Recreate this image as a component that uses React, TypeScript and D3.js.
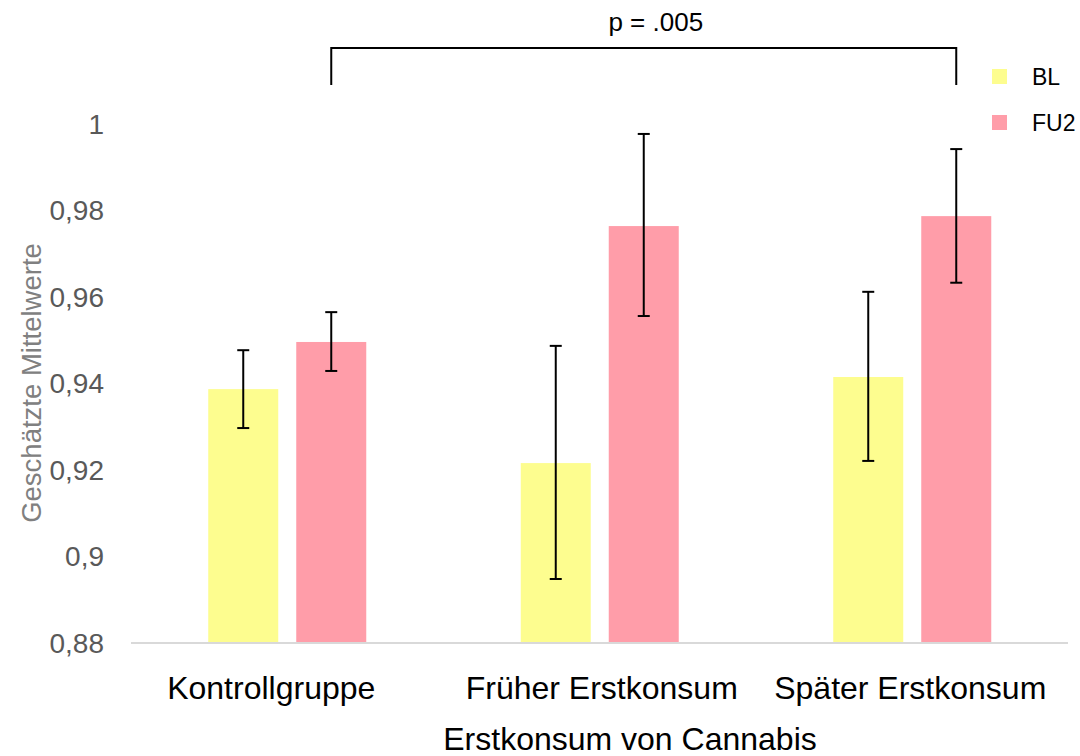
import React from "react";
import * as d3 from "d3";

const categories = ["Kontrollgruppe", "Früher Erstkonsum", "Später Erstkonsum"];
const series = ["BL", "FU2"];
const blValues = [0.9387, 0.9216, 0.9415];
const blLow = [0.9297, 0.8948, 0.9221];
const blHigh = [0.9477, 0.9487, 0.9612];
const fu2Values = [0.9496, 0.9764, 0.9787];
const fu2Low = [0.9429, 0.9556, 0.9633];
const fu2High = [0.9565, 0.9977, 0.9942];
const yTicks = [0.88, 0.9, 0.92, 0.94, 0.96, 0.98, 1.0];
const colors = ["#fdfd8f", "#ff9da9"];
const pLabel = "p = .005";

const W = 1080;
const H = 756;
const FONT = "'Liberation Sans', Arial, Helvetica, sans-serif";

export default function App() {
  const x = d3.scaleBand<string>().domain(categories).range([131, 1068.5]).paddingInner(0).paddingOuter(0);
  const y = d3.scaleLinear().domain([0.88, 1.0]).range([643, 124]);
  const barW = 70;
  const gap = 18;
  const innerW = barW * 2 + gap;
  const subX = (i: number) => i * (barW + gap);
  const groupStart = (c: string) => (x(c) as number) + (x.bandwidth() - innerW) / 2;

  const data = [
    { vals: blValues, lo: blLow, hi: blHigh },
    { vals: fu2Values, lo: fu2Low, hi: fu2High },
  ];

  const fmt = (v: number) => d3.format(".2~f")(v).replace(".", ",");

  const bracketL = groupStart(categories[0]) + subX(1) + barW / 2;
  const bracketR = groupStart(categories[2]) + subX(1) + barW / 2;
  const labelOffsets = [-16, 2, -2];

  return (
    <svg width={W} height={H} style={{ position: "absolute", left: 0, top: 0 }} fontFamily={FONT}>
      <rect x={0} y={0} width={W} height={H} fill="#ffffff" />
      {yTicks.map((t) => (
        <text key={t} x={104} y={y(t)} textAnchor="end" dominantBaseline="central" fontSize={28} fill="#595959">
          {fmt(t)}
        </text>
      ))}
      <text
        transform={`translate(${31},${383}) rotate(-90)`}
        textAnchor="middle"
        dominantBaseline="central"
        fontSize={27.5}
        fill="#808080"
      >
        Geschätzte Mittelwerte
      </text>
      {categories.map((c, ci) =>
        data.map((s, si) => {
          const bx = groupStart(c) + subX(si);
          return (
            <rect
              key={c + si}
              x={bx}
              y={y(s.vals[ci])}
              width={barW}
              height={y(0.88) - y(s.vals[ci])}
              fill={colors[si]}
            />
          );
        })
      )}
      <line x1={131} x2={1068} y1={y(0.88)} y2={y(0.88)} stroke="#d9d9d9" strokeWidth={2} />
      {categories.map((c, ci) =>
        data.map((s, si) => {
          const cx = groupStart(c) + subX(si) + barW / 2;
          return (
            <g key={"e" + c + si} stroke="#000" strokeWidth={2}>
              <line x1={cx} x2={cx} y1={y(s.lo[ci])} y2={y(s.hi[ci])} />
              <line x1={cx - 6} x2={cx + 6} y1={y(s.lo[ci])} y2={y(s.lo[ci])} />
              <line x1={cx - 6} x2={cx + 6} y1={y(s.hi[ci])} y2={y(s.hi[ci])} />
            </g>
          );
        })
      )}
      {categories.map((c, ci) => (
        <text
          key={"l" + c}
          x={(x(c) as number) + x.bandwidth() / 2 + labelOffsets[ci]}
          y={688}
          textAnchor="middle"
          dominantBaseline="central"
          fontSize={32}
          fill="#000"
        >
          {c}
        </text>
      ))}
      <text x={630} y={739} textAnchor="middle" dominantBaseline="central" fontSize={32} fill="#000">
        Erstkonsum von Cannabis
      </text>
      <path
        d={`M${bracketL},${85}V${48}H${bracketR}V${85}`}
        fill="none"
        stroke="#000"
        strokeWidth={2}
      />
      <text x={(bracketL + bracketR) / 2 + 12} y={22} textAnchor="middle" dominantBaseline="central" fontSize={26} fill="#000">
        {pLabel}
      </text>
      {series.map((s, i) => (
        <g key={"lg" + s} transform={`translate(992,${69 + i * 46})`}>
          <rect x={0} y={0} width={15} height={15} fill={colors[i]} />
          <text x={40} y={8} dominantBaseline="central" fontSize={23} fill="#000">
            {s}
          </text>
        </g>
      ))}
    </svg>
  );
}
